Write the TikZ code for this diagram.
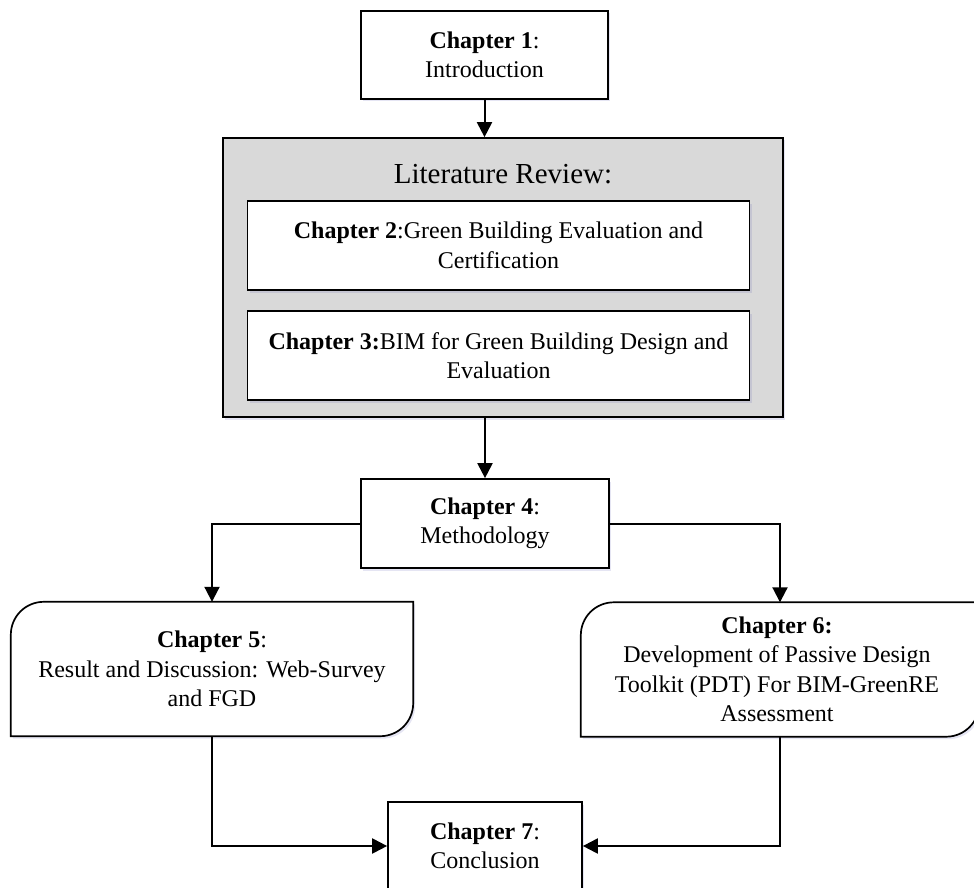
\documentclass[tikz,border=0pt]{standalone}
\usepackage{fontspec}
\setmainfont{Liberation Serif}
\usetikzlibrary{arrows.meta,shadows}
\begin{document}
\begin{tikzpicture}[x=1pt,y=-1pt,
  shd/.style={drop shadow={shadow xshift=2pt,shadow yshift=-2.5pt,fill=blue!35!gray,opacity=0.15}},
  box/.style={draw=black, line width=1.7pt, fill=white, shd, align=center, inner sep=0pt,
              font=\fontsize{24}{29.5}\selectfont},
  plain/.style={align=center, inner sep=0pt, font=\fontsize{24}{29.5}\selectfont},
  arr/.style={line width=2pt, -{Triangle[length=15pt,width=15pt]}}]
\useasboundingbox (0,0) rectangle (974,888);

% Chapter 1
\node[box, minimum width=247pt, minimum height=88pt] (ch1) at (484.5,55)
  {\textbf{Chapter 1}:\\Introduction};

% Literature review group
\node[box, fill=gray!30, minimum width=560pt, minimum height=279pt] (lit) at (503,277.5) {};
\node[plain, font=\fontsize{29}{34}\selectfont] (littitle) at (503,174) {Literature Review:};
\node[box, minimum width=502pt, minimum height=89pt] (ch2) at (498.5,245.5)
  {\textbf{Chapter 2}:Green Building Evaluation and\\Certification};
\node[box, minimum width=502pt, minimum height=89pt] (ch3) at (498.5,355.5)
  {\textbf{Chapter 3:}BIM for Green Building Design and\\Evaluation};

% Chapter 4
\node[box, minimum width=248pt, minimum height=89pt] (ch4) at (485,523.5)
  {\textbf{Chapter 4}:\\Methodology};

% Chapter 5 (shape)
\node[draw=none, fill=none, inner sep=0pt, minimum width=402pt, minimum height=134pt] (ch5) at (212,669) {};
\draw[line width=1.7pt, fill=white, shd]
  (ch5.south west) -- ([yshift=-33pt]ch5.north west) to[out=90,in=180] ([xshift=33pt]ch5.north west)
  -- (ch5.north east) -- ([yshift=33pt]ch5.south east) to[out=-90,in=0] ([xshift=-33pt]ch5.south east) -- cycle;
\node[plain] (ch5text) at (ch5.center)
  {\textbf{Chapter 5}:\\Result and Discussion: Web-Survey\\and FGD};

% Chapter 6 (shape)
\node[draw=none, fill=none, inner sep=0pt, minimum width=398pt, minimum height=134pt] (ch6) at (780,669.5) {};
\draw[line width=1.7pt, fill=white, shd]
  (ch6.south west) -- ([yshift=-33pt]ch6.north west) to[out=90,in=180] ([xshift=33pt]ch6.north west)
  -- (ch6.north east) -- ([yshift=33pt]ch6.south east) to[out=-90,in=0] ([xshift=-33pt]ch6.south east) -- cycle;
\node[plain] (ch6text) at ([xshift=-3pt]ch6.center)
  {\textbf{Chapter 6:}\\Development of Passive Design\\Toolkit (PDT) For BIM-GreenRE\\Assessment};

% Chapter 7
\node[box, minimum width=194pt, minimum height=88pt] (ch7) at (485,846)
  {\textbf{Chapter 7}:\\Conclusion};

% Connectors
\draw[arr] (ch1.south) -- (ch1.south |- lit.north);
\draw[arr] (ch4.north |- lit.south) -- (ch4.north);
\draw[arr] (ch4.west) -| (ch5.north);
\draw[arr] (ch4.east) -| (ch6.north);
\draw[arr] (ch5.south) |- (ch7.west);
\draw[arr] (ch6.south) |- (ch7.east);
\end{tikzpicture}
\end{document}
